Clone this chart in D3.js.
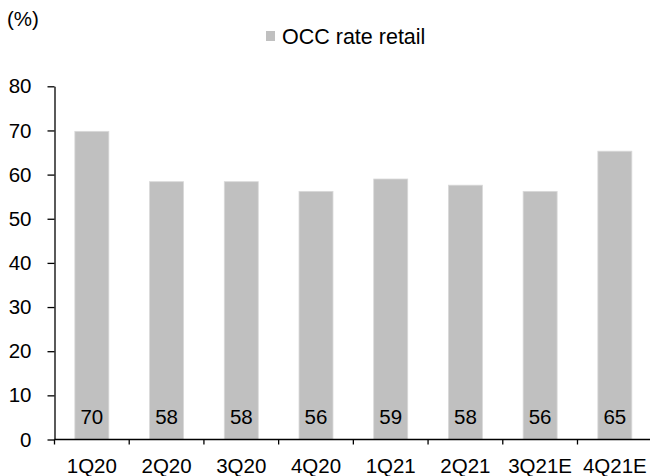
<!DOCTYPE html>
<html>
<head>
<meta charset="utf-8">
<script src="https://cdn.jsdelivr.net/npm/d3@7/dist/d3.min.js"></script>
<style>
  html, body { margin: 0; padding: 0; background: #fff; }
  svg text { font-family: "Liberation Sans", Arial, sans-serif; fill: #000; }
</style>
</head>
<body>
<script>
// chart data
const quarters = ['1Q20', '2Q20', '3Q20', '4Q20', '1Q21', '2Q21', '3Q21E', '4Q21E'];
const occRate = [69.8, 58.4, 58.4, 56.2, 59.0, 57.6, 56.2, 65.3];
const yTicks = [0, 10, 20, 30, 40, 50, 60, 70, 80];
const seriesName = 'OCC rate retail';
const unitLabel = '(%)';

const W = 650, H = 476;
const svg = d3.select('body').append('svg').attr('width', W).attr('height', H);

// plot frame
const x0 = 54.5, x1 = 652.2, yTop = 86.3, yBot = 439.5;
const x = d3.scaleBand().domain(quarters).range([x0, x1]).paddingInner(0.545).paddingOuter(0.2725);
const y = d3.scaleLinear().domain([0, 80]).range([yBot, yTop]);
const barColor = '#c0c0c0';
const fs = 20.5;

// bars
svg.append('g').selectAll('rect').data(quarters).enter().append('rect')
  .attr('x', d => x(d)).attr('width', x.bandwidth())
  .attr('y', (d, i) => y(occRate[i])).attr('height', (d, i) => yBot - y(occRate[i]))
  .attr('fill', barColor).attr('stroke', '#d9d9d9').attr('stroke-width', 0.8);

// value labels at the bottom of each bar
svg.append('g').selectAll('text').data(quarters).enter().append('text')
  .attr('x', d => x(d) + x.bandwidth() / 2).attr('y', 424)
  .attr('text-anchor', 'middle').style('font-size', fs + 'px')
  .text((d, i) => Math.round(occRate[i]));

// y axis
const yAxis = svg.append('g').attr('transform', `translate(${x0},0)`)
  .call(d3.axisLeft(y).tickValues(yTicks).tickSize(7).tickPadding(16).tickSizeOuter(0));
yAxis.select('.domain').attr('stroke', '#000').attr('stroke-width', 1.3);
yAxis.selectAll('.tick line').attr('stroke', '#000').attr('stroke-width', 1.3);
yAxis.selectAll('.tick text').style('font-size', fs + 'px').attr('font-family', null);

// x axis: ticks sit on category boundaries
const bounds = d3.range(quarters.length + 1).map(i => x0 + i * x.step());
const xg = svg.append('g');
xg.append('line').attr('x1', x0).attr('x2', x1).attr('y1', yBot).attr('y2', yBot)
  .attr('stroke', '#000').attr('stroke-width', 1.3);
xg.selectAll('line.tk').data(bounds).enter().append('line').attr('class', 'tk')
  .attr('x1', d => d).attr('x2', d => d).attr('y1', yBot).attr('y2', yBot + 5)
  .attr('stroke', '#000').attr('stroke-width', 1.3);
xg.selectAll('text').data(quarters).enter().append('text')
  .attr('x', d => x(d) + x.bandwidth() / 2).attr('y', 473)
  .attr('text-anchor', 'middle').style('font-size', fs + 'px')
  .text(d => d);

// unit label
svg.append('text').attr('x', 7).attr('y', 26).style('font-size', fs + 'px').text(unitLabel);

// legend
const lg = svg.append('g');
lg.append('rect').attr('x', 266).attr('y', 31).attr('width', 9).attr('height', 10).attr('fill', barColor);
lg.append('text').attr('x', 282).attr('y', 44).style('font-size', '21.5px').text(seriesName);
</script>
</body>
</html>
